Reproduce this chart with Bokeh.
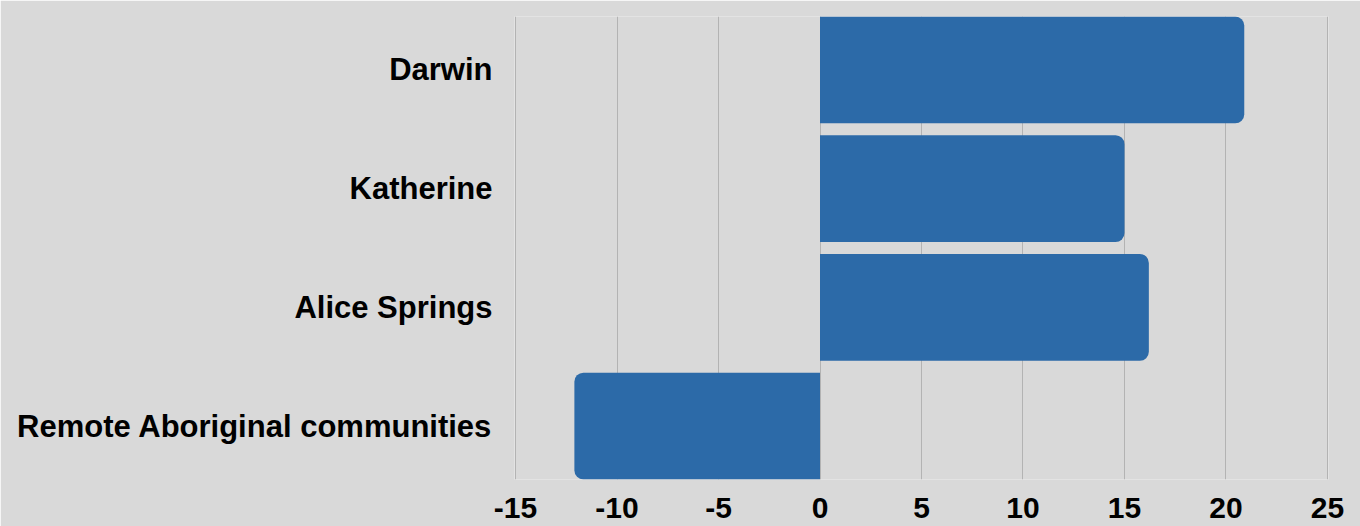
from bokeh.plotting import figure
from bokeh.models import Range1d, FixedTicker, ColumnDataSource
from bokeh.embed import file_html
from bokeh.resources import INLINE

categories = ["Darwin", "Katherine", "Alice Springs", "Remote Aboriginal communities"]
values = [20.9, 15, 16.2, -12.1]
x_ticks = [-15, -10, -5, 0, 5, 10, 15, 20, 25]
x_tick_labels = ["-15", "-10", "-5", "0", "5", "10", "15", "20", "25"]

BG = "#d9d9d9"
BAR = "#2c6aa8"

idx = list(range(len(categories)))
pos = ColumnDataSource(dict(y=[i for i in idx if values[i] >= 0],
                            v=[values[i] for i in idx if values[i] >= 0]))
neg = ColumnDataSource(dict(y=[i for i in idx if values[i] < 0],
                            v=[values[i] for i in idx if values[i] < 0]))

p = figure(width=1360, height=526, output_backend="svg", toolbar_location=None,
           x_range=Range1d(-15.05, 25.05),
           y_range=Range1d(len(categories) - 0.55, -0.45),
           min_border_left=514, min_border_right=32, min_border_top=16, min_border_bottom=47)
p.background_fill_color = BG
p.border_fill_color = BG
p.outline_line_color = None

p.hbar(y="y", left=0, right="v", height=0.9, source=pos, fill_color=BAR, line_color=None,
       border_radius=(0, 9, 9, 0))
p.hbar(y="y", left="v", right=0, height=0.9, source=neg, fill_color=BAR, line_color=None,
       border_radius=(9, 0, 0, 9))

p.ygrid.visible = False
p.xgrid.grid_line_color = "#b3b3b3"
p.xgrid.grid_line_width = 1
p.xaxis.ticker = FixedTicker(ticks=x_ticks)
p.xaxis.major_label_overrides = {t: l for t, l in zip(x_ticks, x_tick_labels)}
p.yaxis.ticker = FixedTicker(ticks=idx)
p.yaxis.major_label_overrides = {i: c for i, c in zip(idx, categories)}

for ax in (p.xaxis[0], p.yaxis[0]):
    ax.axis_line_color = None
    ax.major_tick_line_color = None
    ax.minor_tick_line_color = None
    ax.major_label_text_font = "Liberation Sans"
    ax.major_label_text_font_style = "bold"
    ax.major_label_text_font_size = "31px"
    ax.major_label_text_color = "#000000"
p.xaxis.major_label_text_font_size = "30px"
p.xaxis.major_label_standoff = 12
p.yaxis.major_label_standoff = 16

open("out.html", "w").write(file_html(p, INLINE))
